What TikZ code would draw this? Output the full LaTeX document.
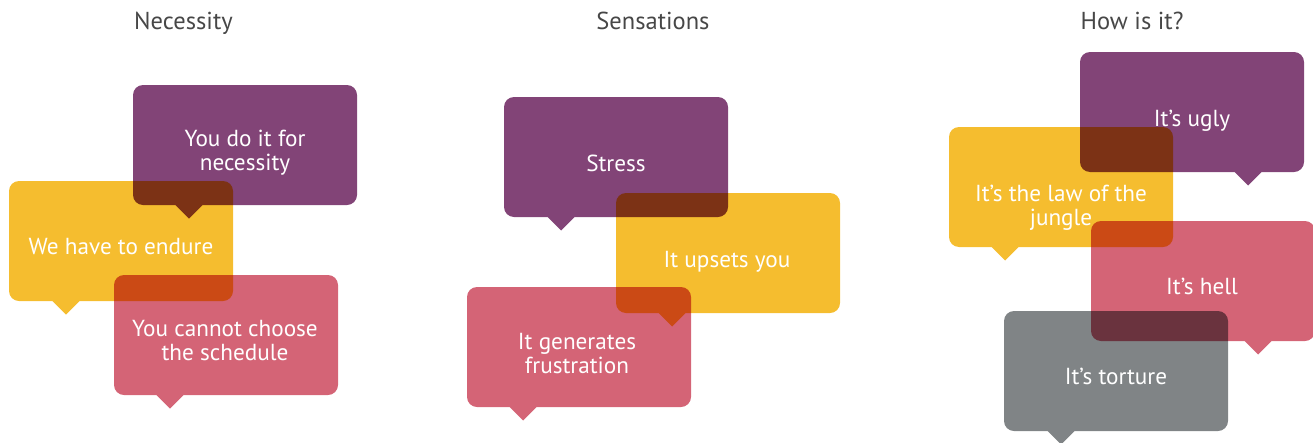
\documentclass[tikz,border=0pt]{standalone}
\usepackage{fontspec}
\setmainfont{PT Sans}
\definecolor{bpurple}{HTML}{824477}
\definecolor{byellow}{HTML}{F5BD2F}
\definecolor{bpink}{HTML}{D46476}
\definecolor{bgray}{HTML}{808486}
\tikzset{
  btext/.style={text=white, font=\fontsize{23.2}{24}\selectfont, align=center, inner sep=0pt},
  htext/.style={text=black!72, font=\fontsize{24.5}{26}\selectfont, anchor=base, inner sep=0pt},
}
% bubble: x, y (top-left), tail x, colour
\newcommand\bubble[4]{%
  \fill[#4, rounded corners=10pt] (#1,#2) -- (#1+224,#2) -- (#1+224,#2+120) -- (#1,#2+120) -- cycle
    [sharp corners] (#3-17.5,#2+116) -- (#3+17.5,#2+116) -- (#3,#2+133.5) -- cycle;}
\begin{document}
\begin{tikzpicture}[x=1pt,y=-1pt]
\useasboundingbox (0,0) rectangle (1313,442);
\clip (0,0) rectangle (1313,442);
\begin{scope}[blend mode=multiply]
  \bubble{133}{85}{189}{bpurple}
  \bubble{9}{181}{66}{byellow}
  \bubble{114}{275}{170}{bpink}
  \bubble{504}{97}{561}{bpurple}
  \bubble{616}{193}{672}{byellow}
  \bubble{467}{287}{523}{bpink}
  \bubble{1080}{52}{1248}{bpurple}
  \bubble{949}{127}{1005}{byellow}
  \bubble{1091}{221}{1258}{bpink}
  \bubble{1004}{311}{1061}{bgray}
\end{scope}
\node[htext] (h1) at (183.5,29.3) {Necessity};
\node[htext] (h2) at (653,29.3) {Sensations};
\node[htext] (h3) at (1132,29.3) {How is it?};
\node[btext] (t1) at (245,154) {\strut You do it for\\\strut necessity};
\node[btext] (t2) at (121,250) {\strut We have to endure};
\node[btext] (t3) at (225,344) {\strut You cannot choose\\\strut the schedule};
\node[btext] (t4) at (616,167) {\strut Stress};
\node[btext] (t5) at (727,262.5) {\strut It upsets you};
\node[btext] (t6) at (577,356.5) {\strut It generates\\\strut frustration};
\node[btext] (t7) at (1192,122) {\strut It’s ugly};
\node[btext] (t8) at (1061,209) {\strut It’s the law of the\\\strut jungle};
\node[btext] (t9) at (1202,290) {\strut It’s hell};
\node[btext] (t10) at (1116,379.5) {\strut It’s torture};
\end{tikzpicture}
\end{document}
